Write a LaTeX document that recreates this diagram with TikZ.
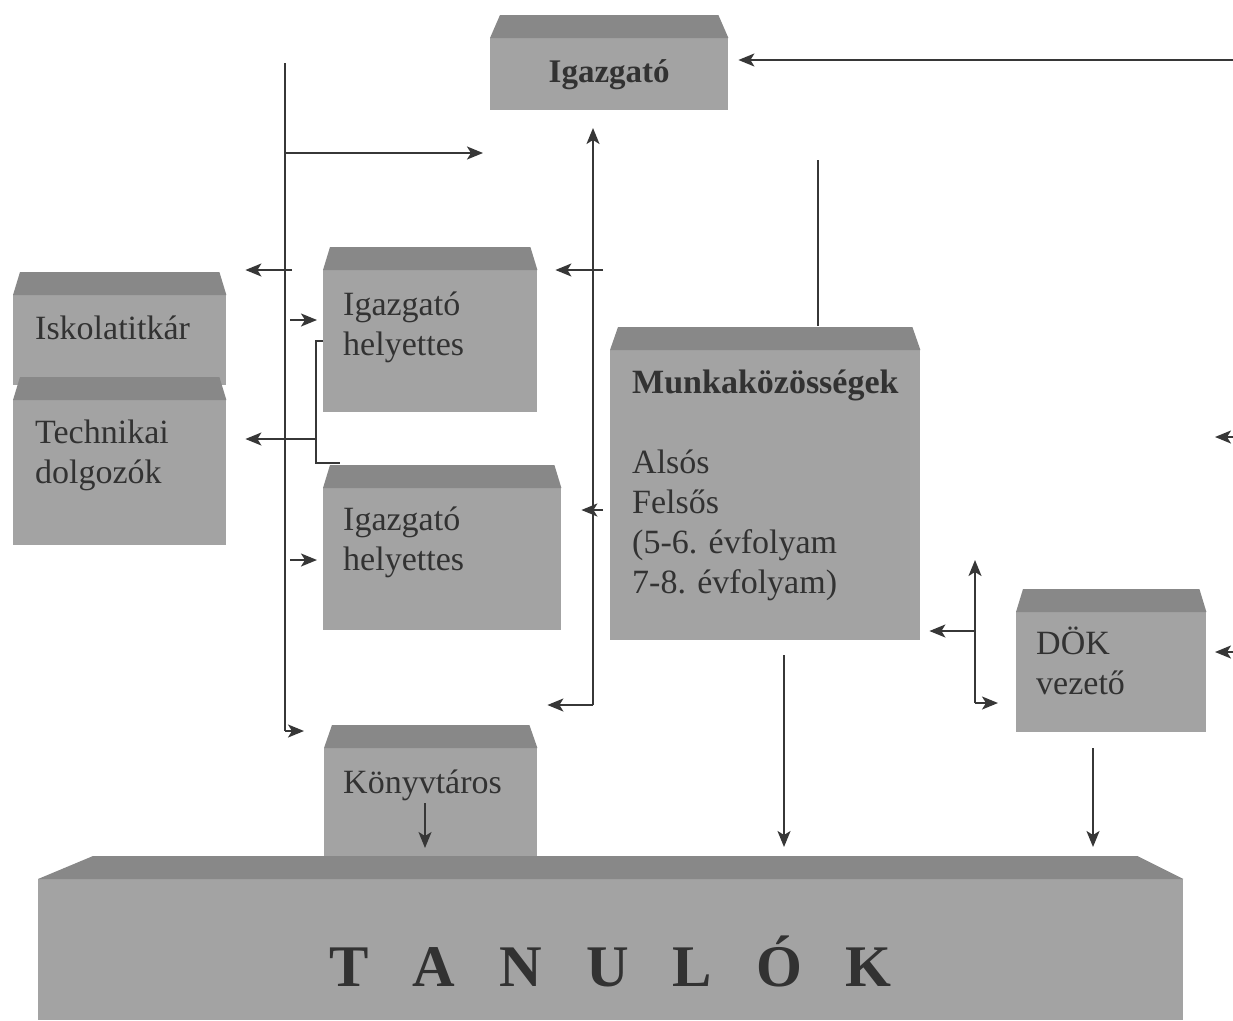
\documentclass[tikz,border=0pt]{standalone}
\usepackage{fontspec}
\setmainfont{Liberation Serif}
\usetikzlibrary{positioning,arrows.meta,calc}

\definecolor{boxface}{RGB}{163,163,163}
\definecolor{boxtop}{RGB}{136,136,136}
\definecolor{ink}{RGB}{50,50,50}
\definecolor{linecol}{RGB}{55,55,55}

% sloped top of a box: node, left inset, right inset
\newcommand{\bevel}[3]{%
  \fill[boxtop] (#1.north west) -- ++(#2,-23) -- ($(#1.north east)+(-#3,-23)$) -- (#1.north east) -- cycle;}

\begin{document}
\begin{tikzpicture}[x=1pt, y=-1pt,
  box/.style={fill=boxface, inner sep=0pt, anchor=north west},
  txt/.style={font=\fontsize{34}{40}\selectfont, text=ink, align=left, inner sep=0pt},
  link/.style={draw=linecol, line width=1.8pt},
  arr/.style={link, -{Stealth[length=16pt,width=13pt,inset=4pt]}}]
  \useasboundingbox (0,0) rectangle (1233,1020);

  % boxes
  \node[box, minimum width=238pt, minimum height=72pt, font=\fontsize{33}{40}\selectfont\bfseries, text=ink] (ig) at (490,38) {Igazgató};
  \bevel{ig}{10}{10}

  \node[box, minimum width=213pt, minimum height=90pt] (isk) at (13,295) {};
  \bevel{isk}{7}{7}
  \node[txt, below right=21pt and 22pt of isk.north west] (isktxt) {Iskolatitkár};

  \node[box, minimum width=213pt, minimum height=145pt] (tech) at (13,400) {};
  \bevel{tech}{7}{7}
  \node[txt, below right=20pt and 22pt of tech.north west] (techtxt) {Technikai\\dolgozók};

  \node[box, minimum width=214pt, minimum height=142pt] (igh1) at (323,270) {};
  \bevel{igh1}{7}{7}
  \node[txt, below right=22pt and 20pt of igh1.north west] (igh1txt) {Igazgató\\helyettes};

  \node[box, minimum width=238pt, minimum height=142pt] (igh2) at (323,488) {};
  \bevel{igh2}{7}{7}
  \node[txt, below right=19pt and 20pt of igh2.north west] (igh2txt) {Igazgató\\helyettes};

  \node[box, minimum width=310pt, minimum height=290pt] (munka) at (610,350) {};
  \bevel{munka}{8}{8}
  \node[txt, below right=20pt and 22pt of munka.north west] (munkatxt)
    {\textbf{Munkaközösségek}\\[40pt]Alsós\\Felsős\\(5-6. évfolyam\\7-8. évfolyam)};

  \node[box, minimum width=190pt, minimum height=120pt] (dok) at (1016,612) {};
  \bevel{dok}{7}{7}
  \node[txt, below right=15pt and 20pt of dok.north west] (doktxt) {DÖK\\vezető};

  \node[box, minimum width=213pt, minimum height=110pt] (konyv) at (324,748) {};
  \bevel{konyv}{8}{8}
  \node[txt, below right=22pt and 19pt of konyv.north west] (konyvtxt) {Könyvtáros};

  \node[box, minimum width=1145pt, minimum height=141pt] (tan) at (38,879) {};
  \bevel{tan}{55}{46}
  \node[font={\fontsize{59}{60}\selectfont\bfseries\spaceskip=44pt\relax}, text=ink, anchor=base] (tantxt)
    at ([yshift=-37pt]tan.center) {T A N U L Ó K};

  % left trunk
  \coordinate (ltop) at (285,63);
  \coordinate (lmid) at (285,153);
  \coordinate (lbot) at (285,731);
  \draw[link] (ltop) -- (lbot);
  \draw[arr] (lmid) -- ([xshift=-7pt]ig.west |- lmid);
  \draw[arr] (lbot) -- ([xshift=-20pt]konyv.north west |- lbot);

  \coordinate (iskout) at (292,270);
  \draw[arr] (iskout) -- ([xshift=19pt]isk.east |- iskout);
  \coordinate (h1in) at (290,320);
  \draw[arr] (h1in) -- ([xshift=-6pt]h1in -| igh1.west);
  \coordinate (h2in) at (290,560);
  \draw[arr] (h2in) -- ([xshift=-6pt]h2in -| igh2.west);

  % bracket between the two deputies
  \coordinate (brk) at (316,439);
  \draw[link] (igh1.west) -| (brk) |- ([shift={(17pt,25pt)}]igh2.north west);
  \draw[arr] (brk) -- ([xshift=19pt]tech.east |- brk);

  % middle trunk
  \coordinate (mtop) at (593,128);
  \coordinate (mbot) at (593,705);
  \draw[arr] (mbot) -- (mtop);
  \draw[arr] (mbot) -- ([xshift=-14pt]mbot -| igh2.east);
  \coordinate (h1back) at (603,270);
  \draw[arr] (h1back) -- ([xshift=18pt]igh1.east |- h1back);
  \coordinate (h2back) at (603,510);
  \draw[arr] (h2back) -- ([xshift=20pt]igh2.east |- h2back);

  % right side
  \coordinate (rtop) at (1233,60);
  \draw[arr] (rtop) -- ([xshift=10pt]ig.east |- rtop);
  \coordinate (mktop) at (818,160);
  \draw[link] (mktop) -- ([yshift=24pt]munka.north -| mktop);
  \coordinate (mkdown) at (784,655);
  \draw[arr] (mkdown) -- ([yshift=32pt]mkdown |- tan.north);

  \coordinate (dkv) at (975,631);
  \coordinate (dkup) at (975,560);
  \coordinate (dkbot) at (975,703);
  \draw[arr] (dkv) -- ([xshift=9pt]munka.east |- dkv);
  \draw[arr] (dkbot) -- (dkup);
  \draw[arr] (dkbot) -- ([xshift=-18pt]dkbot -| dok.west);
  \coordinate (dkdown) at (1093,748);
  \draw[arr] (dkdown) -- ([yshift=32pt]dkdown |- tan.north);

  \coordinate (kdown) at (425,803);
  \draw[arr] (kdown) -- ([yshift=31pt]kdown |- tan.north);

  \coordinate (redge1) at (1233,437);
  \draw[arr] (redge1) -- ([xshift=-18pt]redge1);
  \coordinate (redge2) at (1233,652);
  \draw[arr] (redge2) -- ([xshift=-18pt]redge2);
\end{tikzpicture}
\end{document}
